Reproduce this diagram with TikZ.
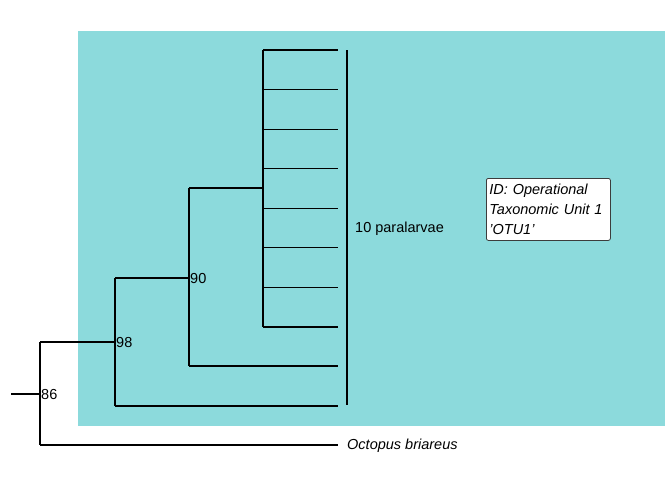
\documentclass[tikz,border=0pt]{standalone}
\usepackage{fontspec}
\setmainfont{Liberation Sans}
\definecolor{cladebg}{RGB}{140,218,220}
\definecolor{boxborder}{RGB}{60,60,60}
\tikzset{
  branch/.style={line width=1.1pt, black},
  rootstub/.style={line width=2pt, black},
  bslabel/.style={anchor=west, inner sep=0pt, font=\fontsize{14.5}{16}\selectfont},
  tiplabel/.style={anchor=west, inner sep=0pt, font=\fontsize{14.5}{17}\selectfont},
  notebox/.style={draw=boxborder, line width=0.8pt, fill=white, rounded corners=2pt, anchor=north west,
     align=left, inner xsep=3pt, inner ysep=0pt, text width=118pt, minimum height=62pt, font=\fontsize{14.5}{20}\selectfont\itshape}
}
\begin{document}
\begin{tikzpicture}[x=1pt,y=-1pt]
\useasboundingbox (0,0) rectangle (672,480);
% highlight
\fill[cladebg] (78,31) rectangle (664.5,425.5);
% coordinates
\coordinate (rs) at (11,394);
\coordinate (n86) at (40,394);
\coordinate (n86t) at (40,342);
\coordinate (n86b) at (40,445);
\coordinate (n98) at (115,342);
\coordinate (n98t) at (115,278);
\coordinate (n98b) at (115,406);
\coordinate (n90) at (189,278);
\coordinate (n90t) at (189,188);
\coordinate (n90b) at (189,366);
\coordinate (pol) at (263,188);
\coordinate (polt) at (263,50);
\coordinate (polb) at (263,327);
\coordinate (tOct) at (338,445);
\coordinate (tA) at (338,406);
\coordinate (tB) at (338,366);
\foreach \i in {0,...,7} {
  \coordinate (p\i) at (263,{50+\i*39.571});
  \coordinate (t\i) at (338,{50+\i*39.571});
}
\coordinate (bart) at (347,50);
\coordinate (barb) at (347,405);
% tree
\draw[rootstub] (rs) -- (n86);
\draw[branch] (n86t) -- (n86b);
\draw[branch] (n86t) -- (n98);
\draw[branch] (n86b) -- (tOct);
\draw[branch] (n98t) -- (n98b);
\draw[branch] (n98t) -- (n90);
\draw[branch] (n98b) -- (tA);
\draw[branch] (n90t) -- (n90b);
\draw[branch] (n90t) -- (pol);
\draw[branch] (n90b) -- (tB);
\draw[branch] (polt) -- (polb);
\foreach \i in {0,...,7} { \draw[branch] (p\i) -- (t\i); }
% clade bar
\draw[branch] (bart) -- (barb);
% labels
\node[bslabel] (l86) at (41,394.5) {86};
\node[bslabel] (l98) at (116,342.5) {98};
\node[bslabel] (l90) at (190,278.5) {90};
\node[tiplabel] (lclade) at (355,229) {10 paralarvae};
\node[tiplabel] (loct) at (347,445.5) {\itshape Octopus briareus};
\node[notebox] (note) at (486,178) {ID: Operational\\Taxonomic Unit 1\\'OTU1'};
\end{tikzpicture}
\end{document}
